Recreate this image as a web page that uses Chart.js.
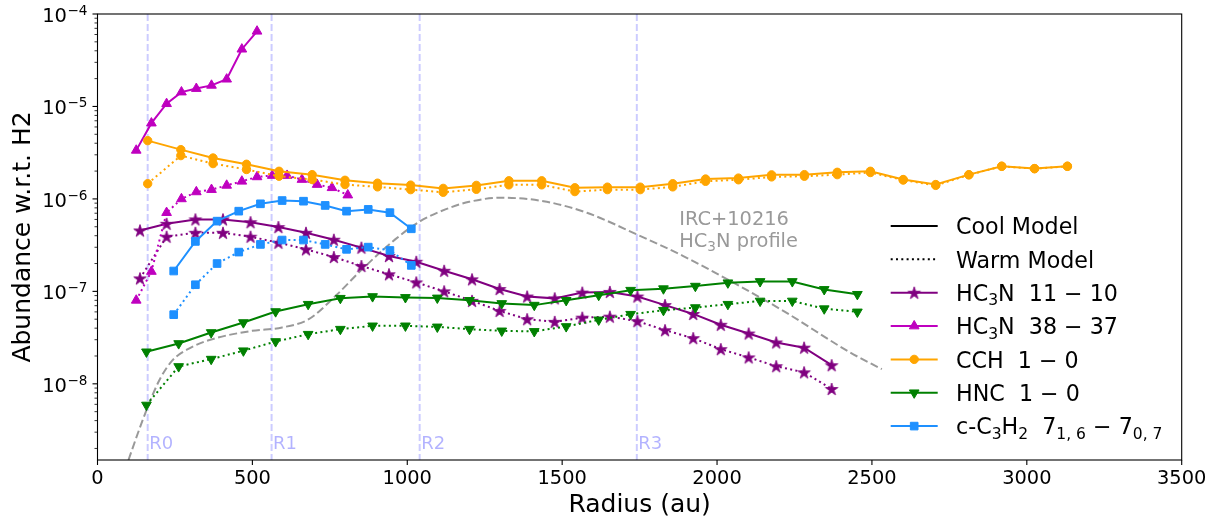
<!DOCTYPE html>
<html>
<head>
<meta charset="utf-8">
<script src="https://cdn.jsdelivr.net/npm/chart.js@4.4.1/dist/chart.umd.min.js"></script>
<style>
  html, body { margin: 0; padding: 0; background: #fff; }
  #wrap { width: 1222px; height: 521px; }
</style>
</head>
<body>
<div id="wrap"><canvas id="chart" width="1222" height="521"></canvas></div>
<script>
// HC3N 11-10
const hc3nLowRadius = [137, 223, 316, 405, 494, 584, 673, 763, 852, 941, 1029, 1119, 1209, 1298, 1387, 1476, 1565, 1654, 1743, 1832, 1923, 2012, 2102, 2191, 2281, 2370];
const hc3nLowCool = [4.56e-7, 5.38e-7, 6.0e-7, 6.0e-7, 5.6e-7, 4.96e-7, 4.3e-7, 3.62e-7, 2.97e-7, 2.41e-7, 2.09e-7, 1.67e-7, 1.35e-7, 1.06e-7, 8.8e-8, 8.4e-8, 9.7e-8, 9.86e-8, 8.8e-8, 7.1e-8, 5.7e-8, 4.35e-8, 3.5e-8, 2.8e-8, 2.46e-8, 1.59e-8];
const hc3nLowWarm = [1.38e-7, 3.9e-7, 4.3e-7, 4.3e-7, 3.9e-7, 3.36e-7, 2.85e-7, 2.35e-7, 1.88e-7, 1.53e-7, 1.25e-7, 1.0e-7, 7.9e-8, 6.15e-8, 5.0e-8, 4.68e-8, 5.2e-8, 5.33e-8, 4.76e-8, 3.8e-8, 3.12e-8, 2.37e-8, 1.93e-8, 1.55e-8, 1.33e-8, 8.8e-9];

// HC3N 38-37
const hc3nHighRadius = [125, 174, 223, 271, 319, 368, 417, 466, 515, 564, 612, 660, 709, 757, 808];
const hc3nHighCool = [3.35e-6, 6.6e-6, 1.07e-5, 1.43e-5, 1.56e-5, 1.69e-5, 1.97e-5, 4.16e-5, 6.5e-5];
const hc3nHighWarm = [8.0e-8, 1.64e-7, 7.1e-7, 1.0e-6, 1.19e-6, 1.26e-6, 1.40e-6, 1.55e-6, 1.73e-6, 1.79e-6, 1.79e-6, 1.62e-6, 1.43e-6, 1.32e-6, 1.1e-6];

// CCH 1-0
const cchRadius = [162, 269, 373, 481, 586, 693, 799, 904, 1011, 1116, 1223, 1328, 1434, 1541, 1646, 1752, 1857, 1963, 2069, 2176, 2282, 2388, 2495, 2601, 2706, 2813, 2919, 3025, 3131];
const cchCool = [4.27e-6, 3.41e-6, 2.77e-6, 2.37e-6, 1.99e-6, 1.83e-6, 1.59e-6, 1.48e-6, 1.41e-6, 1.30e-6, 1.40e-6, 1.57e-6, 1.57e-6, 1.32e-6, 1.34e-6, 1.34e-6, 1.46e-6, 1.64e-6, 1.68e-6, 1.82e-6, 1.83e-6, 1.94e-6, 1.99e-6, 1.62e-6, 1.43e-6, 1.83e-6, 2.26e-6, 2.13e-6, 2.26e-6];
const cchWarm = [1.46e-6, 2.94e-6, 2.41e-6, 2.08e-6, 1.76e-6, 1.62e-6, 1.43e-6, 1.35e-6, 1.26e-6, 1.18e-6, 1.27e-6, 1.42e-6, 1.42e-6, 1.2e-6, 1.26e-6, 1.26e-6, 1.35e-6, 1.55e-6, 1.61e-6, 1.73e-6, 1.76e-6, 1.83e-6, 1.93e-6, 1.6e-6, 1.4e-6, 1.82e-6, 2.25e-6, 2.12e-6, 2.25e-6];

// HNC 1-0
const hncRadius = [158, 262, 367, 471, 575, 680, 784, 888, 994, 1097, 1201, 1305, 1410, 1513, 1618, 1721, 1827, 1930, 2035, 2139, 2243, 2346, 2453];
const hncCool = [2.22e-8, 2.73e-8, 3.59e-8, 4.6e-8, 6.05e-8, 7.26e-8, 8.43e-8, 8.8e-8, 8.6e-8, 8.5e-8, 8.0e-8, 7.4e-8, 7.1e-8, 8.0e-8, 9.1e-8, 1.03e-7, 1.07e-7, 1.14e-7, 1.24e-7, 1.28e-7, 1.28e-7, 1.05e-7, 9.3e-8];
const hncWarm = [5.9e-9, 1.54e-8, 1.85e-8, 2.28e-8, 2.87e-8, 3.44e-8, 3.9e-8, 4.24e-8, 4.24e-8, 4.13e-8, 3.9e-8, 3.74e-8, 3.69e-8, 4.17e-8, 4.92e-8, 5.66e-8, 6.25e-8, 6.68e-8, 7.26e-8, 7.87e-8, 7.87e-8, 6.5e-8, 6.0e-8];

// c-C3H2 7(1,6)-7(0,7)
const c3h2Radius = [246, 316, 386, 456, 526, 596, 665, 735, 804, 874, 944, 1013];
const c3h2Cool = [1.66e-7, 3.47e-7, 5.75e-7, 7.37e-7, 8.85e-7, 9.6e-7, 9.45e-7, 8.5e-7, 7.37e-7, 7.7e-7, 7.1e-7, 4.75e-7];
const c3h2Warm = [5.6e-8, 1.18e-7, 2.0e-7, 2.66e-7, 3.22e-7, 3.59e-7, 3.59e-7, 3.22e-7, 2.85e-7, 3.01e-7, 2.77e-7, 1.91e-7];

// IRC+10216 HC3N profile (grey dashed)
const ircRadius = [100, 130, 162, 200, 241, 300, 370, 499, 596, 682, 768, 854, 961, 1042, 1123, 1200, 1300, 1440, 1580, 1741, 1891, 2053, 2214, 2429, 2532];
const ircProfile = [1.5e-9, 2.9e-9, 5.6e-9, 1.1e-8, 1.78e-8, 2.45e-8, 3.04e-8, 3.74e-8, 4.07e-8, 5.0e-8, 8.9e-8, 1.73e-7, 3.65e-7, 5.75e-7, 7.7e-7, 9.3e-7, 1.03e-6, 9.45e-7, 7.08e-7, 4.13e-7, 2.41e-7, 1.24e-7, 6.15e-8, 2.19e-8, 1.44e-8];

// region markers
const regionRadius = [162, 562, 1040, 1741];
const regionLabels = ['R0', 'R1', 'R2', 'R3'];

// axes
const xTicks = [0, 500, 1000, 1500, 2000, 2500, 3000, 3500];
const yDecades = [-9, -8, -7, -6, -5, -4];
const yMin = 1.5e-9, yMax = 1e-4;

const FONT = '"DejaVu Sans", "Liberation Sans", sans-serif';
const C_PURPLE = '#800080', C_MAGENTA = '#bf00bf', C_ORANGE = '#ffa500', C_GREEN = '#008000', C_BLUE = '#1e90ff';
const DOT = [2, 3.3];

// filled 5-point star marker
function makeStar(color) {
  const c = document.createElement('canvas');
  c.width = 16; c.height = 16;
  const g = c.getContext('2d');
  const R = 6.6, r = R * 0.382;
  g.beginPath();
  for (let i = 0; i < 10; i++) {
    const rad = (i % 2 ? r : R);
    const a = -Math.PI / 2 + i * Math.PI / 5;
    const px = 8 + rad * Math.cos(a), py = 8.6 + rad * Math.sin(a);
    i ? g.lineTo(px, py) : g.moveTo(px, py);
  }
  g.closePath();
  g.fillStyle = color;
  g.strokeStyle = color;
  g.lineWidth = 0.8;
  g.fill();
  g.stroke();
  return c;
}
const starImg = makeStar(C_PURPLE);

const species = [
  {radius: hc3nLowRadius, cool: hc3nLowCool, warm: hc3nLowWarm, color: C_PURPLE, style: starImg, r: 5, rot: 0},
  {radius: hc3nHighRadius, cool: hc3nHighCool, warm: hc3nHighWarm, color: C_MAGENTA, style: 'triangle', r: 5.6, rot: 0},
  {radius: cchRadius, cool: cchCool, warm: cchWarm, color: C_ORANGE, style: 'circle', r: 4.2, rot: 0},
  {radius: hncRadius, cool: hncCool, warm: hncWarm, color: C_GREEN, style: 'triangle', r: 5.6, rot: 180},
  {radius: c3h2Radius, cool: c3h2Cool, warm: c3h2Warm, color: C_BLUE, style: 'rect', r: 5.4, rot: 0}
];

const datasets = [{
  label: 'IRC+10216',
  data: ircRadius.map((x, i) => ({x, y: ircProfile[i]})),
  borderColor: '#999999', borderWidth: 2, borderDash: [8, 3.5],
  pointRadius: 0, cubicInterpolationMode: 'monotone', fill: false
}];
species.forEach(s => {
  ['cool', 'warm'].forEach(kind => {
    const vals = s[kind];
    datasets.push({
      label: kind,
      data: vals.map((v, i) => ({x: s.radius[i], y: v})),
      borderColor: s.color, backgroundColor: s.color,
      borderWidth: 2, borderDash: kind === 'warm' ? DOT : [],
      borderCapStyle: 'butt',
      pointStyle: s.style, pointRotation: s.rot, pointRadius: s.r,
      pointBackgroundColor: s.color, pointBorderColor: s.color, pointBorderWidth: 1,
      tension: 0, fill: false
    });
  });
});
datasets.forEach((d, i) => { d.order = -i; });

const legendRows = [
  {parts: [['Cool Model']], color: '#000', dash: [], style: null},
  {parts: [['Warm Model']], color: '#000', dash: DOT, style: null},
  {parts: [['HC'], ['3', 'sub'], ['N  11 \u2212 10']], sp: 0},
  {parts: [['HC'], ['3', 'sub'], ['N  38 \u2212 37']], sp: 1},
  {parts: [['CCH  1 \u2212 0']], sp: 2},
  {parts: [['HNC  1 \u2212 0']], sp: 3},
  {parts: [['c-C'], ['3', 'sub'], ['H'], ['2', 'sub'], ['  7'], ['1, 6', 'sub'], [' \u2212 7'], ['0, 7', 'sub']], sp: 4}
];

function drawRich(ctx, parts, x, y, size) {
  let cx = x;
  parts.forEach(([t, kind]) => {
    const s = kind ? size * 0.7 : size;
    ctx.font = s + 'px ' + FONT;
    const dy = kind === 'sub' ? size * 0.2 : kind === 'sup' ? -size * 0.36 : 0;
    ctx.fillText(t, cx, y + dy);
    cx += ctx.measureText(t).width;
  });
  return cx;
}

function marker(ctx, s, x, y) {
  if (s.style === starImg) {
    ctx.drawImage(starImg, x - 8, y - 8);
    return;
  }
  ctx.save();
  ctx.translate(x, y);
  ctx.rotate(s.rot * Math.PI / 180);
  ctx.fillStyle = s.color; ctx.strokeStyle = s.color; ctx.lineWidth = 1;
  ctx.setLineDash([]);
  ctx.beginPath();
  if (s.style === 'circle') {
    ctx.arc(0, 0, s.r, 0, Math.PI * 2);
  } else if (s.style === 'rect') {
    const h = Math.SQRT1_2 * s.r;
    ctx.rect(-h, -h, 2 * h, 2 * h);
  } else {
    let a = 0;
    ctx.moveTo(Math.sin(a) * s.r, -Math.cos(a) * s.r);
    a += 2 * Math.PI / 3; ctx.lineTo(Math.sin(a) * s.r, -Math.cos(a) * s.r);
    a += 2 * Math.PI / 3; ctx.lineTo(Math.sin(a) * s.r, -Math.cos(a) * s.r);
    ctx.closePath();
  }
  ctx.fill(); ctx.stroke();
  ctx.restore();
}

const decor = {
  id: 'decor',
  beforeDatasetsDraw(chart) {
    const {ctx, chartArea: a, scales: {x}} = chart;
    ctx.save();
    ctx.strokeStyle = 'rgba(0,0,255,0.2)';
    ctx.lineWidth = 2;
    ctx.setLineDash([7, 3]);
    ctx.fillStyle = 'rgba(0,0,255,0.3)';
    ctx.font = '18px ' + FONT;
    ctx.textAlign = 'left';
    ctx.textBaseline = 'alphabetic';
    regionRadius.forEach((r, i) => {
      const px = x.getPixelForValue(r);
      ctx.beginPath(); ctx.moveTo(px, a.top); ctx.lineTo(px, a.bottom); ctx.stroke();
      ctx.fillText(regionLabels[i], px + 1.5, a.bottom - 11);
    });
    ctx.restore();
  },
  afterDraw(chart) {
    const {ctx, chartArea: a, scales: {x, y}} = chart;
    ctx.save();
    // frame
    ctx.strokeStyle = '#000'; ctx.lineWidth = 1.1; ctx.setLineDash([]);
    ctx.strokeRect(a.left, a.top, a.right - a.left, a.bottom - a.top);
    // x ticks
    ctx.lineWidth = 1.1;
    xTicks.forEach(v => {
      const px = x.getPixelForValue(v);
      ctx.beginPath(); ctx.moveTo(px, a.bottom); ctx.lineTo(px, a.bottom + 5); ctx.stroke();
    });
    // y ticks and labels
    ctx.fillStyle = '#000';
    yDecades.forEach(e => {
      for (let m = 1; m < 10; m++) {
        const v = m * Math.pow(10, e);
        if (v < yMin * 0.999 || v > yMax * 1.001) continue;
        const py = y.getPixelForValue(v);
        const len = m === 1 ? 5 : 3;
        ctx.lineWidth = m === 1 ? 1.1 : 0.8;
        ctx.beginPath(); ctx.moveTo(a.left - len, py); ctx.lineTo(a.left, py); ctx.stroke();
        if (m === 1) {
          ctx.font = '19.5px ' + FONT;
          const w1 = ctx.measureText('10').width;
          ctx.font = '13.6px ' + FONT;
          const ex = '\u2212' + Math.abs(e);
          const w2 = ctx.measureText(ex).width;
          const x0 = a.left - 10.5 - w1 - w2;
          ctx.textAlign = 'left'; ctx.textBaseline = 'alphabetic';
          ctx.font = '19.5px ' + FONT;
          ctx.fillText('10', x0, py + 7.7);
          ctx.font = '13.6px ' + FONT;
          ctx.fillText(ex, x0 + w1 + 0.5, py + 1);
        }
      }
    });
    // axis titles
    ctx.font = '25px ' + FONT;
    ctx.textAlign = 'center'; ctx.textBaseline = 'middle';
    ctx.fillText('Radius (au)', (a.left + a.right) / 2, 505);
    ctx.save();
    ctx.translate(23, (a.top + a.bottom) / 2);
    ctx.rotate(-Math.PI / 2);
    ctx.fillText('Abundance w.r.t. H2', 0, 0);
    ctx.restore();
    // IRC annotation
    ctx.fillStyle = '#999999';
    ctx.textAlign = 'left'; ctx.textBaseline = 'alphabetic';
    const ax = x.getPixelForValue(1878);
    ctx.font = '19.4px ' + FONT;
    ctx.fillText('IRC+10216', ax, y.getPixelForValue(6.2e-7) + 7);
    drawRich(ctx, [['HC'], ['3', 'sub'], ['N profile']], ax, y.getPixelForValue(3.6e-7) + 7, 19.4);
    // legend
    legendRows.forEach((row, i) => {
      const ry = 226 + i * 33.35;
      const s = row.sp !== undefined ? species[row.sp] : null;
      ctx.strokeStyle = s ? s.color : row.color;
      ctx.lineWidth = 2;
      ctx.lineCap = 'butt';
      ctx.setLineDash(s ? [] : row.dash);
      ctx.beginPath(); ctx.moveTo(890.7, ry); ctx.lineTo(937.7, ry); ctx.stroke();
      ctx.setLineDash([]);
      if (s) marker(ctx, s, 914.2, ry);
      ctx.fillStyle = '#000';
      ctx.textAlign = 'left'; ctx.textBaseline = 'alphabetic';
      drawRich(ctx, row.parts, 956, ry + 8.3, 22.2);
    });
    ctx.restore();
  }
};

new Chart(document.getElementById('chart'), {
  type: 'line',
  data: {datasets},
  options: {
    responsive: false,
    animation: false,
    devicePixelRatio: 1,
    events: [],
    layout: {padding: {top: 14, right: 40.3, left: 0, bottom: 0}},
    plugins: {legend: {display: false}, tooltip: {enabled: false}},
    scales: {
      x: {
        type: 'linear', min: 0, max: 3500,
        afterFit: s => { s.height = 61; },
        afterBuildTicks: s => { s.ticks = xTicks.map(v => ({value: v})); },
        grid: {display: false, drawTicks: true, tickLength: 5},
        border: {display: false},
        ticks: {
          font: {family: FONT, size: 19.4}, color: '#000', padding: 2,
          maxRotation: 0, autoSkip: false,
          callback: v => String(v)
        }
      },
      y: {
        type: 'logarithmic', min: yMin, max: yMax,
        afterFit: s => { s.width = 97.5; },
        grid: {display: false},
        border: {display: false},
        ticks: {display: false}
      }
    }
  },
  plugins: [decor]
});
</script>
</body>
</html>
